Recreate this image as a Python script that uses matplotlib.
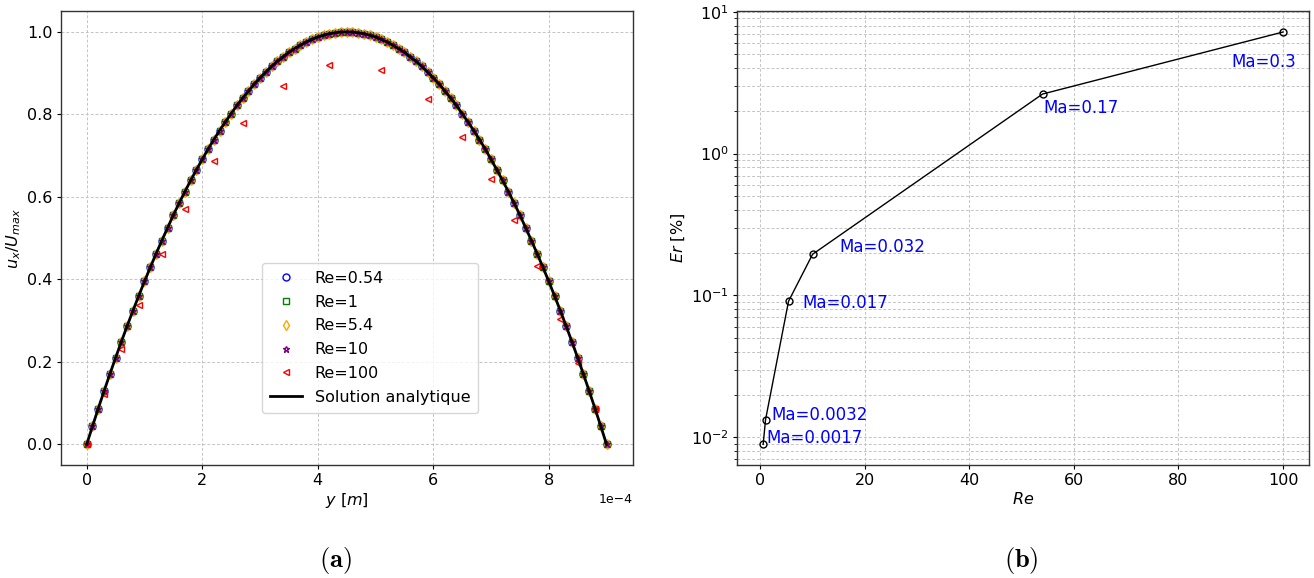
import matplotlib
matplotlib.use("Agg")
import matplotlib.pyplot as plt
from matplotlib.ticker import LogLocator

# ---------------- data (a): velocity profiles ----------------
# wall-normal position in units of 1e-4 m
y_pos_e4 = [0.0, 0.1, 0.2, 0.3, 0.4, 0.5, 0.6, 0.7, 0.8, 0.9,
            1.0, 1.1, 1.2, 1.3, 1.4, 1.5, 1.6, 1.7, 1.8, 1.9,
            2.0, 2.1, 2.2, 2.3, 2.4, 2.5, 2.6, 2.7, 2.8, 2.9,
            3.0, 3.1, 3.2, 3.3, 3.4, 3.5, 3.6, 3.7, 3.8, 3.9,
            4.0, 4.1, 4.2, 4.3, 4.4, 4.5, 4.6, 4.7, 4.8, 4.9,
            5.0, 5.1, 5.2, 5.3, 5.4, 5.5, 5.6, 5.7, 5.8, 5.9,
            6.0, 6.1, 6.2, 6.3, 6.4, 6.5, 6.6, 6.7, 6.8, 6.9,
            7.0, 7.1, 7.2, 7.3, 7.4, 7.5, 7.6, 7.7, 7.8, 7.9,
            8.0, 8.1, 8.2, 8.3, 8.4, 8.5, 8.6, 8.7, 8.8, 8.9, 9.0]

# normalised velocity (low-Re runs lie on the analytic curve)
u_profile = [0.000, 0.044, 0.087, 0.129, 0.170, 0.210, 0.249, 0.287, 0.324, 0.360,
             0.395, 0.429, 0.462, 0.494, 0.525, 0.556, 0.585, 0.613, 0.640, 0.666,
             0.691, 0.716, 0.739, 0.761, 0.782, 0.802, 0.822, 0.840, 0.857, 0.874,
             0.889, 0.903, 0.917, 0.929, 0.940, 0.951, 0.960, 0.968, 0.976, 0.982,
             0.988, 0.992, 0.996, 0.998, 1.000, 1.000, 1.000, 0.998, 0.996, 0.992,
             0.988, 0.982, 0.976, 0.968, 0.960, 0.951, 0.940, 0.929, 0.917, 0.903,
             0.889, 0.874, 0.857, 0.840, 0.822, 0.802, 0.782, 0.761, 0.739, 0.716,
             0.691, 0.666, 0.640, 0.613, 0.585, 0.556, 0.525, 0.494, 0.462, 0.429,
             0.395, 0.360, 0.324, 0.287, 0.249, 0.210, 0.170, 0.129, 0.087, 0.044, 0.000]

u_re054 = u_profile
u_re1 = u_profile
u_re54 = u_profile
u_re10 = u_profile
u_analytic = u_profile

# Re = 100 run (coarser sampling, visibly below the analytic profile)
y_re100_e4 = [0.0, 0.3, 0.6, 0.9, 1.3, 1.7, 2.2, 2.7, 3.4, 4.2,
              5.1, 5.9, 6.5, 7.0, 7.4, 7.8, 8.2, 8.5, 8.8]
u_re100 = [0.000, 0.121, 0.232, 0.339, 0.461, 0.571, 0.686, 0.779, 0.870, 0.920,
           0.908, 0.837, 0.745, 0.643, 0.545, 0.433, 0.303, 0.198, 0.085]

series_labels = ["Re=0.54", "Re=1", "Re=5.4", "Re=10", "Re=100"]

# ---------------- data (b): relative error ----------------
re_values = [0.54, 1, 5.4, 10, 54, 100]
er_percent = [0.0089, 0.0133, 0.091, 0.195, 2.63, 7.2]
ma_labels = ["Ma=0.0017", "Ma=0.0032", "Ma=0.017", "Ma=0.032", "Ma=0.17", "Ma=0.3"]

# ---------------- figure ----------------
fig = plt.figure(figsize=(13.14, 5.78), dpi=100)
ax1 = fig.add_axes([0.0462, 0.1955, 0.4352, 0.7848])
ax2 = fig.add_axes([0.5610, 0.1955, 0.4352, 0.7848])

FS = 11.5
grid_kw = dict(color="#c4c4c4", linestyle=(0, (3, 2)), linewidth=0.7)

def to_m(vals):
    return [v * 1e-4 for v in vals]

x_all = to_m(y_pos_e4)
mk = dict(linestyle="none", markersize=5, markerfacecolor="none", markeredgewidth=1.0)
ax1.plot(x_all, u_re054, marker="o", markeredgecolor="blue", label=series_labels[0], **mk)
ax1.plot(x_all, u_re1, marker="s", markeredgecolor="green", label=series_labels[1], **mk)
ax1.plot(x_all, u_re54, marker="d", markeredgecolor="orange", label=series_labels[2], **mk)
ax1.plot(x_all, u_re10, marker="*", markeredgecolor="purple", label=series_labels[3], **mk)
ax1.plot(to_m(y_re100_e4), u_re100, marker="<", markeredgecolor="red", label=series_labels[4], **mk)
ax1.plot(x_all, u_analytic, color="black", linewidth=2.0, label="Solution analytique")

ax1.ticklabel_format(axis="x", style="sci", scilimits=(0, 0))
ax1.xaxis.get_offset_text().set_fontsize(9)
ax1.grid(True, **grid_kw)
ax1.set_axisbelow(True)
ax1.set_xlabel(r"$y\ [m]$", fontsize=FS, labelpad=2)
ax1.set_ylabel(r"$u_x/U_{max}$", fontsize=FS, labelpad=3)
ax1.legend(loc="lower left", bbox_to_anchor=(0.352, 0.115), borderaxespad=0,
           fontsize=FS, numpoints=1, borderpad=0.5, labelspacing=0.55)

ax2.plot(re_values, er_percent, color="black", linewidth=1.0, marker="o",
         markersize=5, markerfacecolor="none", markeredgecolor="black", markeredgewidth=1.0)
ax2.set_yscale("log")
ax2.yaxis.set_minor_locator(LogLocator(base=10, subs=range(2, 10)))
ax2.grid(True, which="major", **grid_kw)
ax2.grid(True, which="minor", axis="y", **grid_kw)
ax2.set_axisbelow(True)
ax2.set_xlabel(r"$Re$", fontsize=FS, labelpad=2)
ax2.set_ylabel(r"$Er$ [%]", fontsize=FS, labelpad=3)

label_pos = [(1.2, 0.0098), (2.2, 0.0144), (8.1, 0.088), (15.2, 0.219), (54.2, 2.11), (90.2, 4.44)]
for (tx, ty), txt in zip(label_pos, ma_labels):
    ax2.text(tx, ty, txt, color="blue", fontsize=12, ha="left", va="center")

for ax in (ax1, ax2):
    ax.tick_params(which="major", labelsize=FS, length=3, pad=3)
    ax.tick_params(which="minor", length=2)
    for s in ax.spines.values():
        s.set_color("#333333")
        s.set_linewidth(1.0)

fig.text(0.255, 0.031, r"$\mathbf{(a)}$", math_fontfamily="cm", fontsize=19, ha="center", va="center")
fig.text(0.777, 0.031, r"$\mathbf{(b)}$", math_fontfamily="cm", fontsize=19, ha="center", va="center")

fig.savefig("out.png", dpi=100)
